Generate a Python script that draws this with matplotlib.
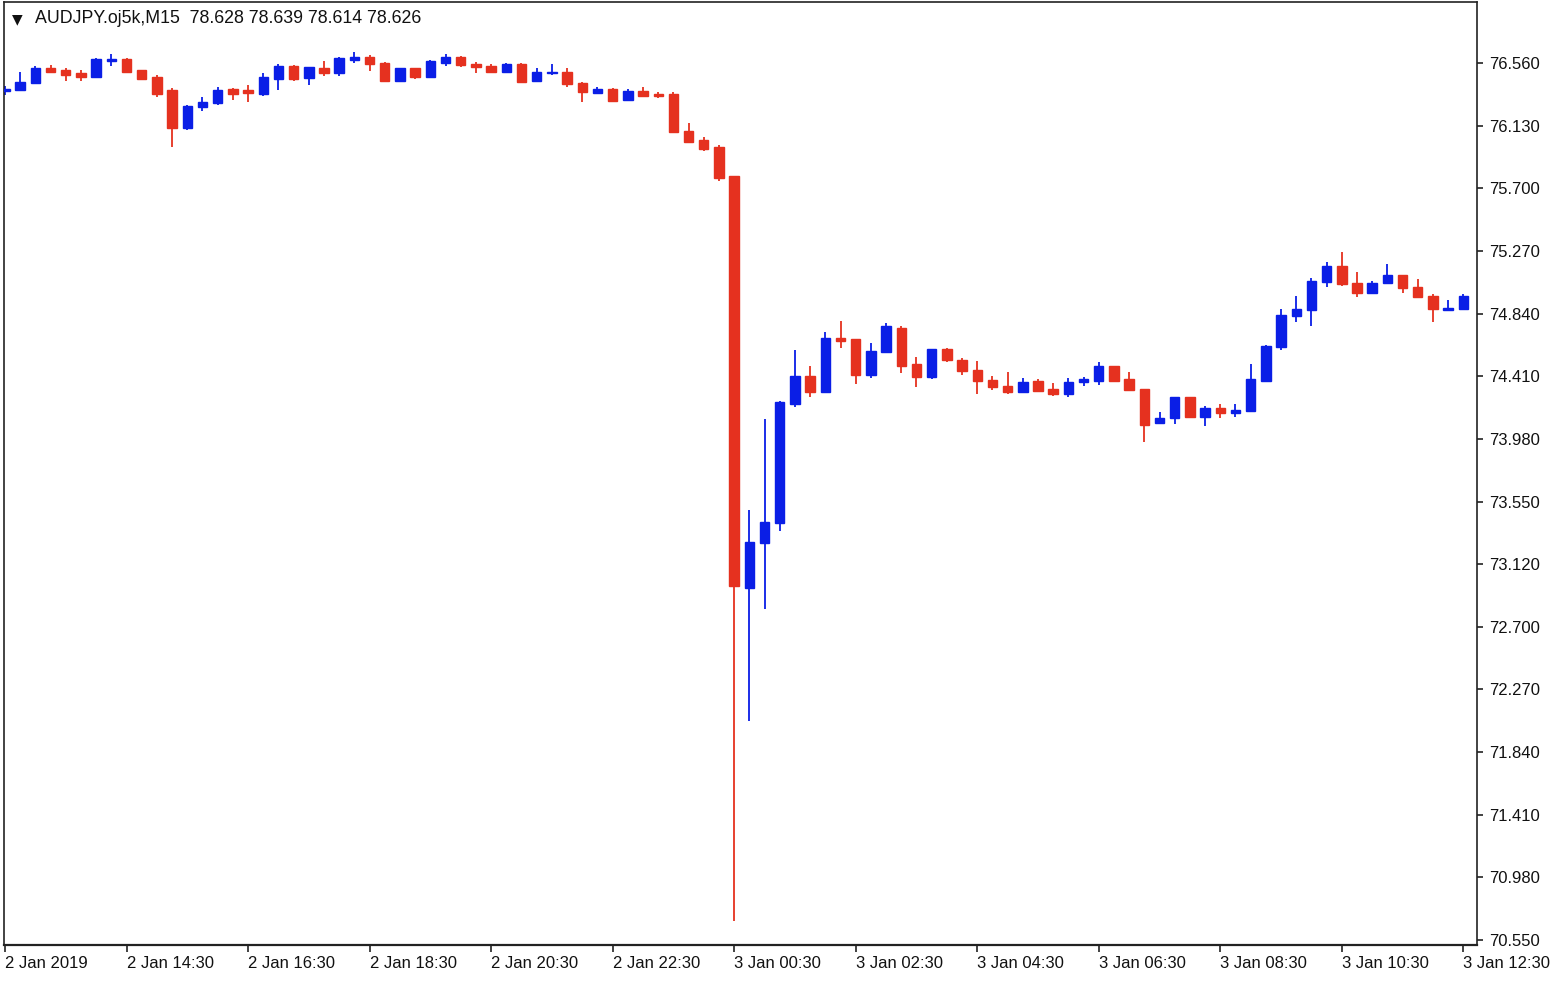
import matplotlib
matplotlib.use("Agg")
import matplotlib.pyplot as plt
import numpy as np

# ---------------- data (AUDJPY M15, 2-3 Jan 2019) ----------------
opens = [76.368, 76.375, 76.425, 76.524, 76.512, 76.489, 76.466, 76.576, 76.587, 76.512,
         76.466, 76.375, 76.113, 76.261, 76.284, 76.382, 76.375, 76.348, 76.448, 76.539,
         76.455, 76.524, 76.489, 76.581, 76.603, 76.562, 76.439, 76.524, 76.466, 76.558,
         76.603, 76.553, 76.539, 76.500, 76.551, 76.439, 76.489, 76.500, 76.425, 76.356,
         76.380, 76.306, 76.370, 76.348, 76.346, 76.096, 76.032, 75.981, 75.786, 72.964,
         73.268, 73.408, 74.223, 74.415, 74.307, 74.677, 74.666, 74.422, 74.582, 74.746,
         74.495, 74.406, 74.598, 74.525, 74.456, 74.388, 74.348, 74.303, 74.381, 74.326,
         74.290, 74.372, 74.381, 74.483, 74.392, 74.326, 74.095, 74.125, 74.273, 74.136,
         74.198, 74.164, 74.175, 74.381, 74.616, 74.826, 74.867, 75.061, 75.171, 75.054,
         74.982, 75.050, 75.107, 75.027, 74.965, 74.867, 74.874]
highs = [76.402, 76.496, 76.539, 76.546, 76.524, 76.512, 76.594, 76.620, 76.592, 76.515,
         76.478, 76.387, 76.269, 76.329, 76.398, 76.389, 76.409, 76.489, 76.553, 76.546,
         76.535, 76.576, 76.603, 76.637, 76.615, 76.569, 76.526, 76.529, 76.581, 76.620,
         76.608, 76.569, 76.553, 76.557, 76.558, 76.524, 76.553, 76.524, 76.432, 76.398,
         76.387, 76.382, 76.393, 76.363, 76.359, 76.147, 76.055, 75.995, 75.789, 73.497,
         74.118, 74.243, 74.590, 74.484, 74.716, 74.795, 74.668, 74.639, 74.780, 74.758,
         74.547, 74.600, 74.605, 74.536, 74.520, 74.415, 74.445, 74.403, 74.392, 74.365,
         74.403, 74.410, 74.513, 74.487, 74.445, 74.329, 74.170, 74.274, 74.274, 74.209,
         74.221, 74.221, 74.495, 74.627, 74.872, 74.963, 75.084, 75.198, 75.263, 75.130,
         75.068, 75.182, 75.110, 75.080, 74.977, 74.935, 74.977]
lows = [76.341, 76.375, 76.425, 76.489, 76.439, 76.439, 76.461, 76.539, 76.489, 76.447,
        76.325, 75.982, 76.101, 76.233, 76.272, 76.306, 76.295, 76.334, 76.375, 76.439,
        76.409, 76.471, 76.471, 76.558, 76.507, 76.433, 76.437, 76.448, 76.464, 76.539,
        76.531, 76.489, 76.489, 76.498, 76.421, 76.437, 76.478, 76.398, 76.295, 76.345,
        76.291, 76.303, 76.334, 76.318, 76.080, 76.019, 75.957, 75.748, 70.681, 72.052,
        72.821, 73.356, 74.202, 74.268, 74.307, 74.605, 74.358, 74.399, 74.580, 74.438,
        74.342, 74.394, 74.513, 74.422, 74.290, 74.319, 74.290, 74.302, 74.303, 74.278,
        74.273, 74.346, 74.353, 74.377, 74.314, 73.965, 74.093, 74.084, 74.134, 74.072,
        74.125, 74.136, 74.172, 74.377, 74.593, 74.787, 74.760, 75.023, 75.034, 74.954,
        74.980, 75.049, 74.982, 74.954, 74.787, 74.862, 74.874]
closes = [76.382, 76.432, 76.524, 76.500, 76.478, 76.466, 76.587, 76.585, 76.500, 76.450,
          76.348, 76.113, 76.265, 76.295, 76.375, 76.348, 76.352, 76.462, 76.539, 76.448,
          76.530, 76.489, 76.592, 76.599, 76.553, 76.439, 76.524, 76.462, 76.576, 76.599,
          76.546, 76.531, 76.500, 76.553, 76.432, 76.500, 76.500, 76.414, 76.359, 76.380,
          76.302, 76.370, 76.336, 76.336, 76.085, 76.021, 75.968, 75.772, 72.976, 73.276,
          73.416, 74.237, 74.415, 74.307, 74.677, 74.657, 74.422, 74.587, 74.758, 74.486,
          74.410, 74.598, 74.525, 74.449, 74.383, 74.342, 74.303, 74.376, 74.314, 74.290,
          74.376, 74.392, 74.483, 74.381, 74.319, 74.079, 74.129, 74.273, 74.136, 74.198,
          74.164, 74.182, 74.393, 74.623, 74.833, 74.872, 75.068, 75.171, 75.043, 74.982,
          75.054, 75.107, 75.020, 74.958, 74.874, 74.883, 74.965]

x_tick_labels = ["2 Jan 2019", "2 Jan 14:30", "2 Jan 16:30", "2 Jan 18:30", "2 Jan 20:30",
                 "2 Jan 22:30", "3 Jan 00:30", "3 Jan 02:30", "3 Jan 04:30", "3 Jan 06:30",
                 "3 Jan 08:30", "3 Jan 10:30", "3 Jan 12:30"]
y_tick_labels = ["76.560", "76.130", "75.700", "75.270", "74.840", "74.410", "73.980",
                 "73.550", "73.120", "72.700", "72.270", "71.840", "71.410", "70.980", "70.550"]
title_text = "AUDJPY.oj5k,M15  78.628 78.639 78.614 78.626"

# ---------------- style ----------------
UP = "#0a1ee6"
DOWN = "#e5311f"
FONT = ["Liberation Sans", "DejaVu Sans"]
plt.rcParams['font.family'] = FONT

W, H = 1566, 984
fig = plt.figure(figsize=(W / 100, H / 100), dpi=100)
fig.patch.set_facecolor("white")
ax_left, ax_right, ax_top, ax_bot = 4, 1477, 2, 945
ax = fig.add_axes([ax_left / W, 1 - ax_bot / H, (ax_right - ax_left) / W, (ax_bot - ax_top) / H])

o = np.array(opens); h = np.array(highs); l = np.array(lows); c = np.array(closes)
idx = np.arange(len(o))
colors = [UP if cc >= oo else DOWN for oo, cc in zip(o, c)]

ax.vlines(idx, l, h, colors=colors, linewidth=1.3, zorder=2)
body_bottom = np.minimum(o, c)
body_h = np.abs(c - o)
ax.bar(idx, body_h, bottom=body_bottom, width=0.62, color=colors, edgecolor=colors,
       linewidth=1.0, zorder=3)

# axes limits (bar spacing ~15.19 px, first bar at x=5)
ax.set_xlim(-0.066, 96.9)
ax.set_ylim(70.516, 76.978)

# x ticks: every 8 bars (2 hours)
ax.set_xticks(np.arange(len(x_tick_labels)) * 8)
ax.set_xticklabels(x_tick_labels, ha="left", fontsize=12, color="#111111")
ax.tick_params(axis="x", direction="out", length=5, width=1.2, pad=3, color="#222222")

# y ticks on the right
step = (76.560 - 70.550) / 14
yt = 76.560 - step * np.arange(len(y_tick_labels))
ax.yaxis.tick_right()
ax.set_yticks(yt)
ax.set_yticklabels(y_tick_labels, fontsize=12, color="#111111")
ax.tick_params(axis="y", direction="out", length=4, width=1.2, pad=5, color="#222222")

for s in ax.spines.values():
    s.set_color("#222222")
    s.set_linewidth(1.2)
ax.spines["bottom"].set_linewidth(1.6)

# header
aw, ah = (ax_right - ax_left), (ax_bot - ax_top)
ax.text(8 / aw, 1 - 17 / ah, "\u25BC", transform=ax.transAxes,
        fontsize=10, family=["DejaVu Sans"], va="center", ha="left", color="#111111")
ax.text(31 / aw, 1 - 17 / ah, title_text, transform=ax.transAxes,
        fontsize=12.8, va="center", ha="left", color="#111111")

fig.savefig("out.png", dpi=100, facecolor="white")
